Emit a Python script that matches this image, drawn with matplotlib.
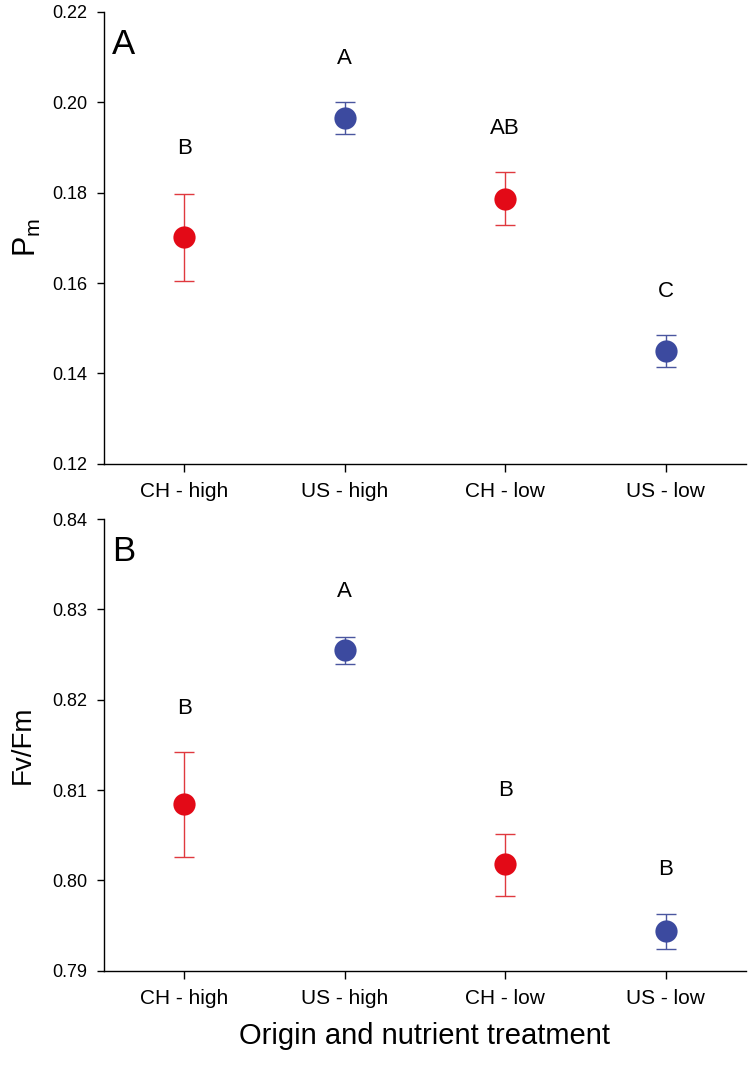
import matplotlib
matplotlib.use("Agg")
import matplotlib.pyplot as plt

plt.rcParams['font.family'] = ['Liberation Sans', 'DejaVu Sans']
plt.rcParams['mathtext.fontset'] = 'custom'
plt.rcParams['mathtext.rm'] = 'Liberation Sans'
plt.rcParams['mathtext.it'] = 'Liberation Sans'

categories = ["CH - high", "US - high", "CH - low", "US - low"]
origin = ["CH", "US", "CH", "US"]

# Panel A: Pm
pm_mean = [0.1702, 0.1965, 0.1787, 0.1450]
pm_upper = [0.1798, 0.2000, 0.1845, 0.1485]
pm_lower = [0.1604, 0.1930, 0.1728, 0.1414]
pm_letters = ["B", "A", "AB", "C"]
pm_letter_y = [0.1897, 0.2096, 0.1943, 0.1582]
pm_ticks = [0.12, 0.14, 0.16, 0.18, 0.20, 0.22]

# Panel B: Fv/Fm
fv_mean = [0.8085, 0.8255, 0.8018, 0.7944]
fv_upper = [0.8142, 0.8269, 0.8051, 0.7963]
fv_lower = [0.8026, 0.8240, 0.7983, 0.7924]
fv_letters = ["B", "A", "B", "B"]
fv_letter_y = [0.8190, 0.8320, 0.8100, 0.8012]
fv_ticks = [0.79, 0.80, 0.81, 0.82, 0.83, 0.84]

colors = {"CH": "#e30a17", "US": "#3c4a9f"}
ecolors = {"CH": "#e0393f", "US": "#4a569f"}

fig = plt.figure(figsize=(7.5, 10.66), dpi=100)
axA = fig.add_axes([104/750, 1-463.7/1066, 642/750, (463.7-12)/1066])
axB = fig.add_axes([104/750, 1-970.7/1066, 642/750, (970.7-519)/1066])

def draw(ax, mean, upper, lower, letters, letter_y, ticks, ylabel, panel, fmt, ylsize):
    xs = list(range(1, len(categories)+1))
    for x, m, u, l, o in zip(xs, mean, upper, lower, origin):
        ax.errorbar([x], [m], yerr=[[m-l], [u-m]], fmt='none', ecolor=ecolors[o],
                    elinewidth=1.0, capsize=7, capthick=1.0, zorder=2)
        ax.plot([x], [m], 'o', color=colors[o], markersize=16, zorder=3,
                markeredgewidth=0)
    for x, t, y in zip(xs, letters, letter_y):
        ax.text(x, y, t, ha='center', va='center', fontsize=16, color='black')
    ax.set_xlim(0.5, 4.5)
    ax.set_ylim(ticks[0], ticks[-1])
    ax.set_yticks(ticks)
    ax.set_yticklabels([fmt.format(t) for t in ticks], fontsize=13)
    ax.set_xticks(xs)
    ax.set_xticklabels(categories, fontsize=15)
    ax.spines['top'].set_visible(False)
    ax.spines['right'].set_visible(False)
    for s in ['left', 'bottom']:
        ax.spines[s].set_linewidth(1.0)
    ax.tick_params(axis='y', direction='out', length=5, width=1.0, pad=7)
    ax.tick_params(axis='x', direction='out', length=6, width=1.0, pad=7)
    ax.set_ylabel(ylabel, fontsize=ylsize)
    ax.text(0.012, 0.965, panel, transform=ax.transAxes, fontsize=25,
            ha='left', va='top')

draw(axA, pm_mean, pm_upper, pm_lower, pm_letters, pm_letter_y, pm_ticks,
     r"P$_\mathrm{m}$", "A", "{:.2f}", 22)
draw(axB, fv_mean, fv_upper, fv_lower, fv_letters, fv_letter_y, fv_ticks,
     "Fv/Fm", "B", "{:.2f}", 20)
axA.yaxis.set_label_coords(-0.095, 0.5)
axB.yaxis.set_label_coords(-0.107, 0.5)
axB.set_xlabel("Origin and nutrient treatment", fontsize=21, labelpad=10)

fig.savefig("out.png", dpi=100)
